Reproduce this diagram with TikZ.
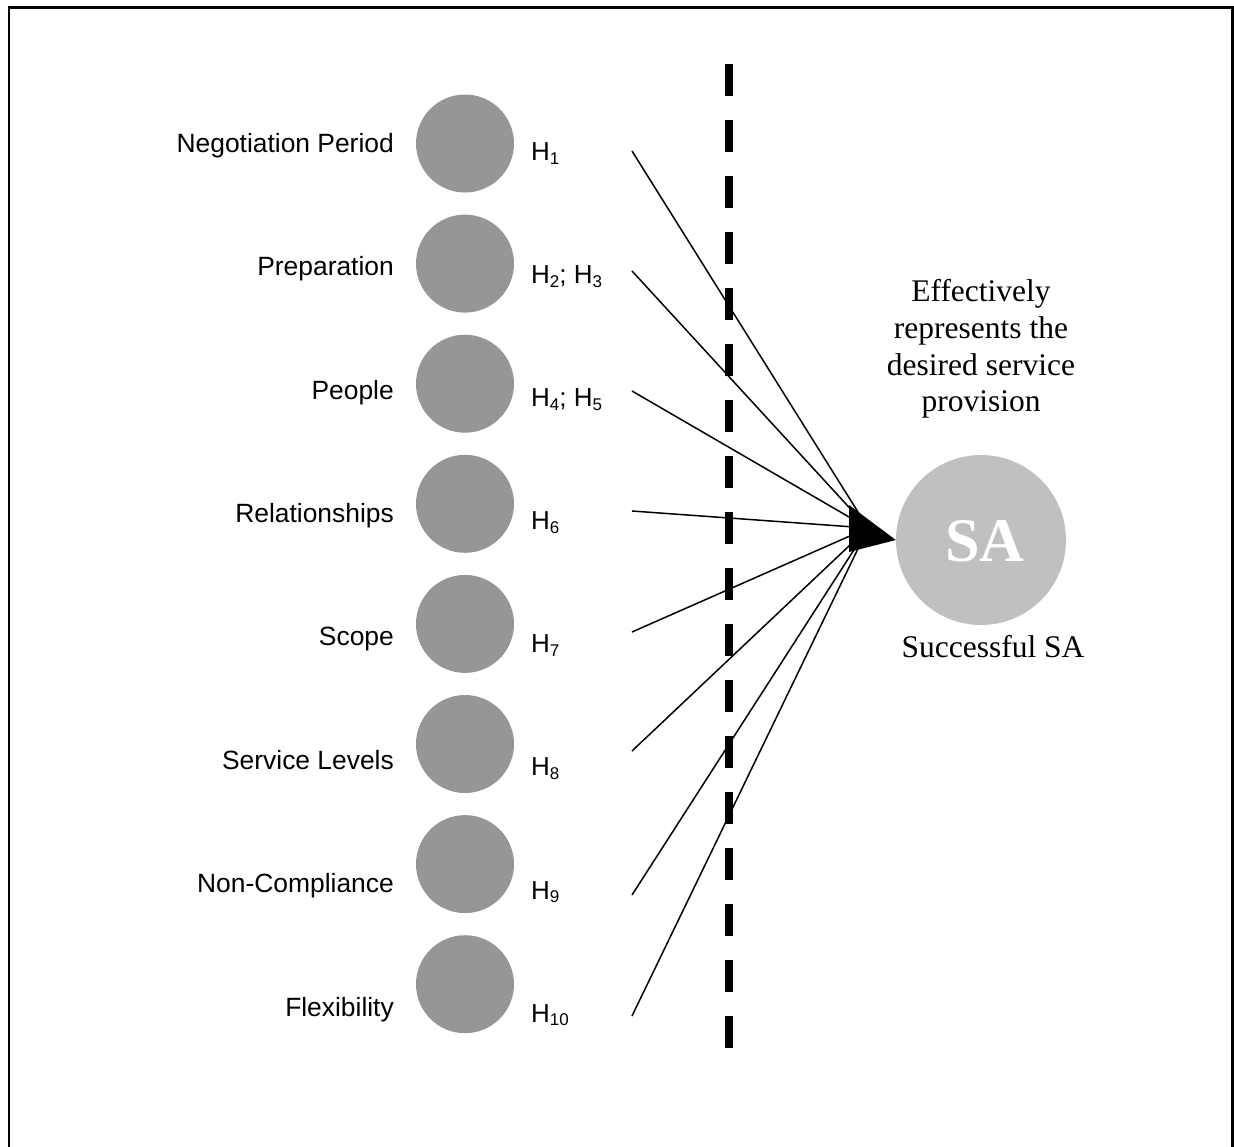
\documentclass[tikz,border=0pt]{standalone}
\usepackage{fontspec}
\setmainfont{Liberation Serif}
\newfontfamily\arialf{Liberation Sans}
\definecolor{factorgray}{RGB}{150,150,150}
\definecolor{sagray}{RGB}{192,192,192}
\newcommand\hsb[1]{\raisebox{-0.14em}{\fontsize{17}{17}\selectfont #1}}
\tikzset{
  factor/.style={circle, fill=factorgray, draw=none, minimum size=98pt, inner sep=0pt},
  lbl/.style={font=\arialf\fontsize{26.4}{30}\selectfont, anchor=base east, inner sep=0pt},
  hlbl/.style={font=\arialf\fontsize{26}{30}\selectfont, anchor=base west, inner sep=0pt},
  link/.style={line width=1.5pt},
  ser/.style={font=\fontsize{31.5}{36}\selectfont, anchor=base, inner sep=0pt},
  divider/.style={line width=8pt, dash pattern=on 32pt off 24pt, line cap=butt}
}
\begin{document}
\begin{tikzpicture}[x=1pt,y=-1pt]
\useasboundingbox (0,0) rectangle (1234,1146);
\draw[line width=2.2pt] (9,7.5) rectangle (1232.5,1160);

% factor circles
\foreach \i in {0,...,7}
  \node[factor] (c\i) at (465,{143.5+120.1*\i}) {};

% factor labels
\foreach \i/\t in {0/Negotiation Period,1/Preparation,2/People,3/Relationships,4/Scope,5/Service Levels,6/Non-Compliance,7/Flexibility}
  \node[lbl] (l\i) at (394,{152.3+123.4*\i}) {\t};

% hypothesis labels
\node[hlbl] (h0) at (531,160.7) {H\hsb{1}};
\node[hlbl] (h1) at (531,283.7) {H\hsb{2}; H\hsb{3}};
\node[hlbl] (h2) at (531,406.8) {H\hsb{4}; H\hsb{5}};
\node[hlbl] (h3) at (531,529.8) {H\hsb{6}};
\node[hlbl] (h4) at (531,652.9) {H\hsb{7}};
\node[hlbl] (h5) at (531,775.9) {H\hsb{8}};
\node[hlbl] (h6) at (531,899.0) {H\hsb{9}};
\node[hlbl] (h7) at (531,1022.0) {H\hsb{10}};

% dashed divider
\coordinate (dtop) at (729,64);
\coordinate (dbot) at (729,1048);
\draw[divider] (dtop) -- (dbot);

% SA node
\node[circle, fill=sagray, minimum size=170pt, inner sep=0pt] (sa) at (981,540) {};
\node[text=white, inner sep=0pt, font=\bfseries\fontsize{62}{62}\selectfont] (satext) at (985,541) {SA};

% converging lines
\coordinate (conv) at (868,528);
\foreach \i/\y in {0/151,1/271,2/391,3/511,4/632,5/751,6/895,7/1016}{
  \coordinate (s\i) at (632,\y);
  \draw[link] (s\i) -- (conv);
}
\fill (849,505) -- (sa.west) -- (849,552) -- cycle;

% texts
\node[ser] (e1) at (981,301) {Effectively};
\node[ser] (e2) at (981,338) {represents the};
\node[ser] (e3) at (981,375) {desired service};
\node[ser] (e4) at (981,411.7) {provision};
\node[ser] (succ) at (993,657.3) {Successful SA};
\end{tikzpicture}
\end{document}
